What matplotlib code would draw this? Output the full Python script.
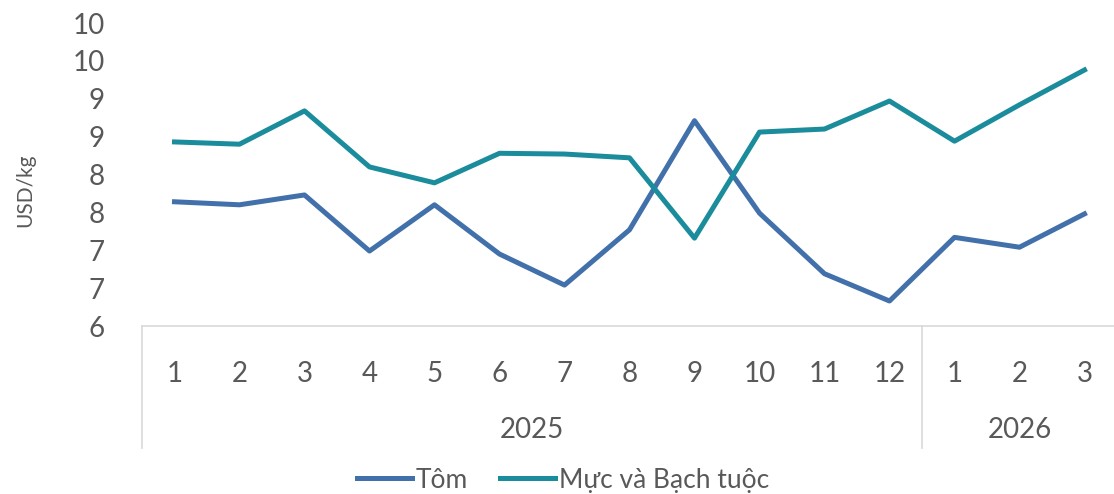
import matplotlib
matplotlib.use("Agg")
import matplotlib.pyplot as plt
import matplotlib.transforms as mtransforms
from matplotlib.ticker import FixedLocator, FuncFormatter

months = ["1", "2", "3", "4", "5", "6", "7", "8", "9", "10", "11", "12", "1", "2", "3"]
years = ["2025", "2026"]
year_counts = [12, 3]
tom = [7.64, 7.60, 7.73, 6.99, 7.60, 6.95, 6.54, 7.27, 8.71, 7.49, 6.69, 6.33, 7.17, 7.04, 7.48]
muc = [8.43, 8.40, 8.84, 8.10, 7.89, 8.28, 8.27, 8.22, 7.16, 8.56, 8.60, 8.97, 8.44, 8.92, 9.38]
series_names = ["Tôm", "Mực và Bạch tuộc"]
colors = ["#4170AB", "#1A8C9C"]

plt.rcParams['font.family'] = ['Lato', 'DejaVu Sans']
W, H = 1114, 494
fig = plt.figure(figsize=(W / 100, H / 100), dpi=100)
ax_left = 142 / W
cat_w = 65.0
ax = fig.add_axes([ax_left, 1 - 326 / H, cat_w * 15 / W, 303 / H])

x = list(range(len(months)))
ax.plot(x, tom, color=colors[0], lw=3.6, label=series_names[0], solid_joinstyle='round')
ax.plot(x, muc, color=colors[1], lw=3.6, label=series_names[1], solid_joinstyle='round')

ax.set_xlim(-0.5, len(months) - 0.5)
ax.set_ylim(6, 10)
ax.yaxis.set_major_locator(FixedLocator([6 + 0.5 * i for i in range(9)]))
ax.yaxis.set_major_formatter(FuncFormatter(lambda v, p: str(int(v + 0.5))))
ax.tick_params(axis='y', length=0, labelsize=20, labelcolor='#595959', pad=27)
ax.set_xticks(x)
ax.set_xticklabels(months)
ax.tick_params(axis='x', length=0, labelsize=20, labelcolor='#595959', pad=25)
for s in ['top', 'right', 'left']:
    ax.spines[s].set_visible(False)
ax.spines['bottom'].set_color('#D9D9D9')
ax.spines['bottom'].set_linewidth(1.2)

trans = mtransforms.blended_transform_factory(ax.transData, fig.transFigure)
y_top = 1 - 326 / H
y_bot = 1 - 448 / H
bounds = [-0.5]
for c in year_counts:
    bounds.append(bounds[-1] + c)
for b in bounds:
    ax.plot([b, b], [y_top, y_bot], transform=trans, color='#D9D9D9', lw=1.2, clip_on=False)
start = -0.5
for yr, c in zip(years, year_counts):
    ax.text(start + c / 2, 1 - 430 / H, yr, transform=trans, ha='center', va='center',
            fontsize=20, color='#595959')
    start += c

fig.text(25 / W, 1 - 190 / H, "USD/kg", rotation=90, ha='center', va='center',
         fontsize=15, color='#595959')

fig.legend(loc='center', bbox_to_anchor=(563 / W, 1 - 480 / H), ncol=2, frameon=False,
           fontsize=19, labelcolor='#595959', handlelength=2.1, handletextpad=0.15,
           columnspacing=1.2, borderpad=0.2)

fig.savefig("out.png", dpi=100)
